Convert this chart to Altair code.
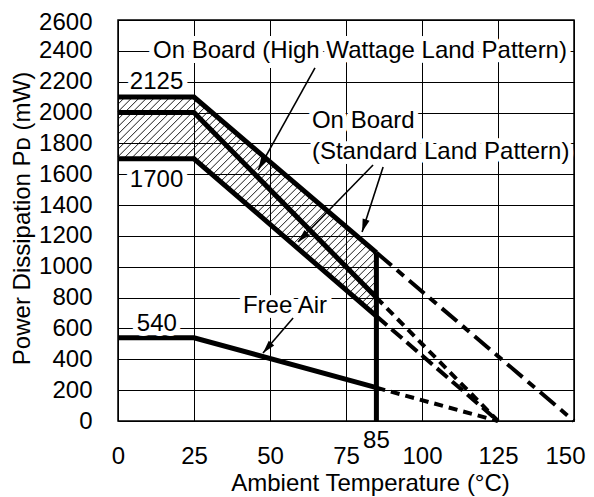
import altair as alt
import pandas as pd
import numpy as np

# ---- data ----
temp_points = [0, 25, 85]
high_wattage = [2100, 2100, 1092]
standard_upper = [2000, 2000, 800]
standard_lower = [1700, 1700, 680]
free_air = [540, 540, 216]

ext_names = ["high", "std_upper", "std_lower", "free"]
ext_start_t = [85, 85, 85, 85]
ext_start_pd = [1092, 800, 680, 216]
ext_end_t = [150, 125, 125, 125]
ext_end_pd = [0, 0, 0, 0]

x_ticks = [0, 25, 50, 75, 100, 125, 150]
y_ticks = list(range(0, 2601, 200))

labels = ["On Board (High Wattage Land Pattern)", "2125", "1700", "540",
          "On Board", "(Standard Land Pattern)", "Free Air"]
label_x = [11.5, 3.9, 3.9, 6.2, 63.8, 63.8, 41.1]
label_y = [2400, 2200, 1560, 632, 1945, 1745, 746]

arrow_x = [64.8, 83.9, 87.2, 57.6]
arrow_y = [2289, 1660, 1647, 668]
arrow_tx = [46.1, 59.2, 80.3, 47.7]
arrow_ty = [1627, 1161, 1225, 441]

W, H = 456, 401
FONT = "Liberation Sans"
FS = 24
sx, sy = W / 150, H / 2600

# ---- tables ----
solid = pd.DataFrame(
    [dict(t=t, pd_=v, s=name) for name, vals in
     [("high", high_wattage), ("std_upper", standard_upper),
      ("std_lower", standard_lower), ("free", free_air)]
     for t, v in zip(temp_points, vals)])
ext = pd.DataFrame(dict(s=ext_names, t=ext_start_t, pd_=ext_start_pd,
                        t2=ext_end_t, pd2=ext_end_pd))

# hatch pattern (45 degree lines) between the 1700 and 2100 curves
k = sx / sy
grid = np.linspace(0, 85, 8501)
U = np.interp(grid, temp_points, high_wattage)
L = np.interp(grid, temp_points, standard_lower)
rows = []
for c in np.arange(-2200 / k, 85, 7.5 / sx):
    yl = k * (grid - c)
    inside = (yl >= L) & (yl <= U)
    if inside.any():
        idx = np.where(inside)[0]
        xa, xb = grid[idx[0]], grid[idx[-1]]
        rows.append(dict(t=xa, pd_=k * (xa - c), t2=xb, pd2=k * (xb - c)))
hatch = pd.DataFrame(rows)

ann = pd.DataFrame(dict(label=labels, t=label_x, pd_=label_y))
arr = pd.DataFrame(dict(t=arrow_x, pd_=arrow_y, t2=arrow_tx, pd2=arrow_ty))
dxp = (arr.t2 - arr.t) * sx
dyp = -(arr.pd2 - arr.pd_) * sy
arr["ang"] = (np.degrees(np.arctan2(dxp, -dyp)) + 360) % 360

xs = alt.Scale(domain=[0, 150], nice=False, zero=False)
ys = alt.Scale(domain=[0, 2600], nice=False, zero=False)
xa = alt.Axis(values=x_ticks, grid=True, gridColor="black", gridWidth=1,
              ticks=False, tickSize=0, domain=False, labelFont=FONT,
              labelFontSize=FS, labelColor="black", labelPadding=42,
              labelBaseline="alphabetic", labelFlush=False, labelOverlap=False,
              labelOffset=alt.ExprRef("datum.value == 150 ? -9 : 0"),
              format="d",
              title="Ambient Temperature (°C)", titleFont=FONT,
              titleFontSize=FS, titleFontWeight="normal", titleColor="black",
              titleX=252, titleY=69, titleBaseline="alphabetic",
              titleAlign="center")
ya = alt.Axis(values=y_ticks, grid=True, gridColor="black", gridWidth=1,
              ticks=False, tickSize=0, domain=False, labelFont=FONT,
              labelFontSize=FS, labelColor="black", labelPadding=26,
              labelFlush=False, labelOverlap=False, format="d",
              labelOffset=alt.ExprRef("datum.value == 2600 ? 2 : 0"),
              title="Power Dissipation Pᴅ (mW)", titleFont=FONT,
              titleFontSize=FS, titleFontWeight="normal", titleColor="black",
              titleX=-89, titleY=198, titleAngle=270,
              titleBaseline="alphabetic", titleAlign="center")


def X(f="t"):
    return alt.X(f, type="quantitative", scale=xs, axis=xa)


def Y(f="pd_"):
    return alt.Y(f, type="quantitative", scale=ys, axis=ya)


hatch_layer = alt.Chart(hatch).mark_rule(color="black", strokeWidth=0.9).encode(
    x=X(), y=Y(), x2="t2", y2="pd2")

solid_layer = alt.Chart(solid).mark_line(color="black", strokeWidth=5).encode(
    x=X(), y=Y(), detail="s:N")

dash_styles = {"high": [20, 7, 9, 7], "std_upper": [9, 6],
               "std_lower": [14, 6], "free": [9, 6]}
dash_layers = [
    alt.Chart(ext).transform_filter(alt.datum.s == name)
    .mark_rule(color="black", strokeWidth=4, strokeDash=d)
    .encode(x=X(), y=Y(), x2="t2", y2="pd2")
    for name, d in dash_styles.items()
]

vline = alt.Chart(pd.DataFrame(dict(t=[85], pd_=[0], pd2=[1092]))).mark_rule(
    color="black", strokeWidth=5).encode(x=X(), y=Y(), y2="pd2")

halo = alt.Chart(ann).mark_text(
    align="left", baseline="middle", font=FONT, fontSize=FS, color="white",
    stroke="white", strokeWidth=10, strokeJoin="round").encode(
    x=X(), y=Y(), text="label")
text = alt.Chart(ann).mark_text(
    align="left", baseline="middle", font=FONT, fontSize=FS,
    color="black").encode(x=X(), y=Y(), text="label")

arrow_lines = alt.Chart(arr).mark_rule(color="black", strokeWidth=1.6).encode(
    x=X(), y=Y(), x2="t2", y2="pd2")
arrow_heads = alt.Chart(arr).mark_point(
    shape="M0,0L-0.36,1.3L0.36,1.3Z", filled=True, color="black", opacity=1,
    size=400).encode(
    x=X("t2"), y=Y("pd2"), angle=alt.Angle("ang:Q", scale=None))

tick85 = alt.Chart(pd.DataFrame(dict(t=[85], label=["85"]))).mark_text(
    align="center", baseline="alphabetic", font=FONT, fontSize=FS,
    color="black").encode(x=X(), y=alt.value(428), text="label")

chart = alt.layer(
    hatch_layer, solid_layer, *dash_layers, vline, halo, text,
    arrow_lines, arrow_heads, tick85
).properties(
    width=W, height=H, autosize="none",
    padding={"left": 110, "top": 12, "right": 12, "bottom": 76},
    background="white",
).configure_view(stroke="black", strokeWidth=1.5)

chart.save("out.html", embed_options={"renderer": "svg", "actions": False})
